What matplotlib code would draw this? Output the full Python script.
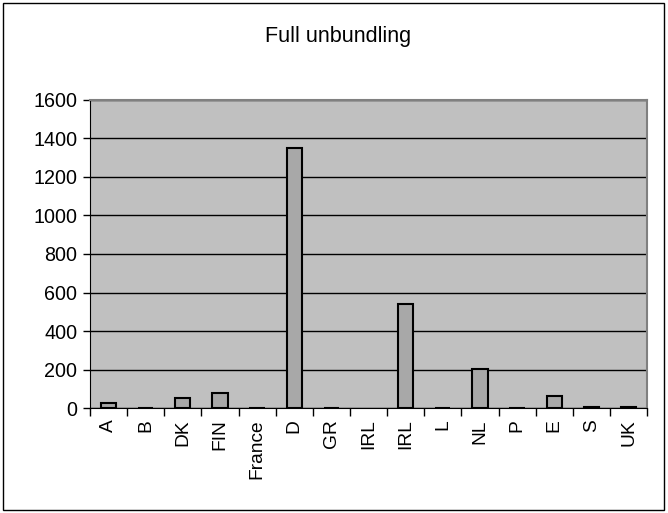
import matplotlib.pyplot as plt
from matplotlib.patches import Rectangle

countries = ['A', 'B', 'DK', 'FIN', 'France', 'D', 'GR', 'IRL', 'IRL', 'L',
             'NL', 'P', 'E', 'S', 'UK']
values = [28, 3, 55, 78, 3, 1350, 3, 0, 542, 3, 202, 3, 62, 6, 6]
yticks = [0, 200, 400, 600, 800, 1000, 1200, 1400, 1600]

plt.rcParams['font.family'] = ['Liberation Sans', 'DejaVu Sans']

fig = plt.figure(figsize=(6.68, 5.13), dpi=100)
ax = fig.add_axes([0.1347, 0.2041, 0.834, 0.6016])

ax.set_facecolor('#C0C0C0')
ax.set_axisbelow(True)
ax.grid(axis='y', color='black', linewidth=1)

x = list(range(len(countries)))
# empty bars get no outline, like the original
edges = [1.5 if v > 0 else 0 for v in values]
ax.bar(x, values, width=0.41, color='#A8A8A8', edgecolor='black', linewidth=edges)

ax.set_ylim(0, 1600)
ax.set_xlim(-0.5, len(countries) - 0.5)
ax.set_yticks(yticks)
ax.tick_params(axis='y', labelsize=14.2, length=5, width=1, direction='out', pad=4)

# ticks between the categories, labels at the centres
ax.set_xticks([i - 0.5 for i in range(len(countries) + 1)])
ax.set_xticklabels([])
ax.tick_params(axis='x', which='major', length=6, width=1, direction='out')
ax.set_xticks(x, minor=True)
ax.set_xticklabels(countries, minor=True, rotation=90, fontsize=13.8)
ax.tick_params(axis='x', which='minor', length=0, pad=8)

ax.spines['left'].set_color('black')
ax.spines['bottom'].set_color('black')
ax.spines['top'].set_color('#808080')
ax.spines['right'].set_color('#808080')
ax.spines['top'].set_linewidth(1.5)
ax.spines['right'].set_linewidth(1.5)

fig.text(0.506, 0.928, 'Full unbundling', ha='center', va='center', fontsize=15.5)

fig.patches.append(Rectangle((0.004, 0.005), 0.99, 0.99, transform=fig.transFigure,
                             fill=False, edgecolor='black', linewidth=1))

plt.savefig('out.png', dpi=100)
